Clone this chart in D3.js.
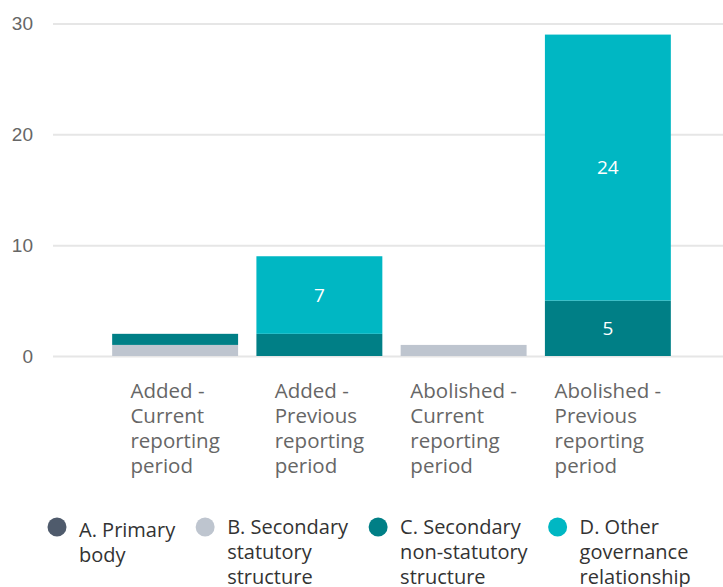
<!DOCTYPE html>
<html>
<head>
<meta charset="utf-8">
<script src="https://cdn.jsdelivr.net/npm/d3@7"></script>
<style>
  body { margin: 0; background: #fff; }
  svg { display: block; font-family: "Open Sans", "Noto Sans", sans-serif; }
</style>
</head>
<body>
<svg id="chart" width="723" height="587"></svg>
<script>
// categories on the x axis
const categories = [
  "Added - Current reporting period",
  "Added - Previous reporting period",
  "Abolished - Current reporting period",
  "Abolished - Previous reporting period"
];
// wrapped label lines, as drawn
const categoryLines = [
  ["Added -", "Current", "reporting", "period"],
  ["Added -", "Previous", "reporting", "period"],
  ["Abolished -", "Current", "reporting", "period"],
  ["Abolished -", "Previous", "reporting", "period"]
];
const seriesNames = [
  "A. Primary body",
  "B. Secondary statutory structure",
  "C. Secondary non-statutory structure",
  "D. Other governance relationship"
];
const seriesLines = [
  ["A. Primary", "body"],
  ["B. Secondary", "statutory", "structure"],
  ["C. Secondary", "non-statutory", "structure"],
  ["D. Other", "governance", "relationship"]
];
const seriesA = [0, 0, 0, 0];
const seriesB = [1, 0, 1, 0];
const seriesC = [1, 2, 0, 5];
const seriesD = [0, 7, 0, 24];
const yTicks = [0, 10, 20, 30];

const colors = ["#4f5b6c", "#bec5cf", "#007f86", "#00b7c3"];

const svg = d3.select("#chart");

const rows = categories.map((c, i) => ({
  cat: c, a: seriesA[i], b: seriesB[i], c: seriesC[i], d: seriesD[i]
}));
const keys = ["a", "b", "c", "d"];
const stacked = d3.stack().keys(keys)(rows);

const x = d3.scaleBand()
  .domain(categories)
  .range([103, 680])
  .paddingInner(0.127)
  .paddingOuter(0.0635);

const y = d3.scaleLinear()
  .domain([0, 30])
  .range([356, 23.5]);

// gridlines + y tick labels
const yAxis = d3.axisLeft(y).tickValues(yTicks).tickSize(-(723 - 53)).tickPadding(20);
const gy = svg.append("g").attr("transform", "translate(53,0)").call(yAxis);
gy.select(".domain").remove();
gy.selectAll(".tick line").attr("stroke", "#e6e6e6").attr("stroke-width", 2);
gy.selectAll(".tick text")
  .attr("fill", "#666")
  .attr("font-size", 19)
  .attr("x", -20);

// bars
const layers = svg.append("g").selectAll("g")
  .data(stacked)
  .join("g")
  .attr("fill", (d, i) => colors[i]);

layers.selectAll("rect")
  .data(d => d)
  .join("rect")
  .attr("x", d => x(d.data.cat))
  .attr("width", x.bandwidth())
  .attr("y", d => y(d[1]))
  .attr("height", d => y(d[0]) - y(d[1]));

// data labels for segments tall enough
layers.selectAll("text")
  .data(d => d.filter(s => (y(s[0]) - y(s[1])) > 40))
  .join("text")
  .attr("x", d => x(d.data.cat) + x.bandwidth() / 2)
  .attr("y", d => (y(d[0]) + y(d[1])) / 2)
  .attr("dy", "0.35em")
  .attr("text-anchor", "middle")
  .attr("fill", "#fff")
  .attr("font-size", 19)
  .text(d => d[1] - d[0]);

// x axis labels: left aligned lines, block centred on band
const xl = svg.append("g");
categories.forEach((c, i) => {
  const t = xl.append("text")
    .attr("fill", "#666")
    .attr("font-size", 20.5);
  categoryLines[i].forEach((line, j) => {
    t.append("tspan").attr("x", 0).attr("y", 398 + j * 25).text(line);
  });
  const w = t.node().getBBox().width;
  t.attr("transform", `translate(${x(c) + x.bandwidth() / 2 - w / 2},0)`);
});

// legend, flowing left to right
const legend = svg.append("g");
let lx = 48;
seriesNames.forEach((s, i) => {
  const g = legend.append("g");
  g.append("circle").attr("cx", 9).attr("cy", 527).attr("r", 9.5).attr("fill", colors[i]);
  const t = g.append("text").attr("fill", "#333").attr("font-size", 20);
  const top = seriesLines[i].length === 2 ? 537 : 534;
  seriesLines[i].forEach((line, j) => {
    t.append("tspan").attr("x", 31).attr("y", top + j * 25).text(line);
  });
  g.attr("transform", `translate(${lx},0)`);
  lx += 31 + t.node().getBBox().width + 20;
});
</script>
</body>
</html>
